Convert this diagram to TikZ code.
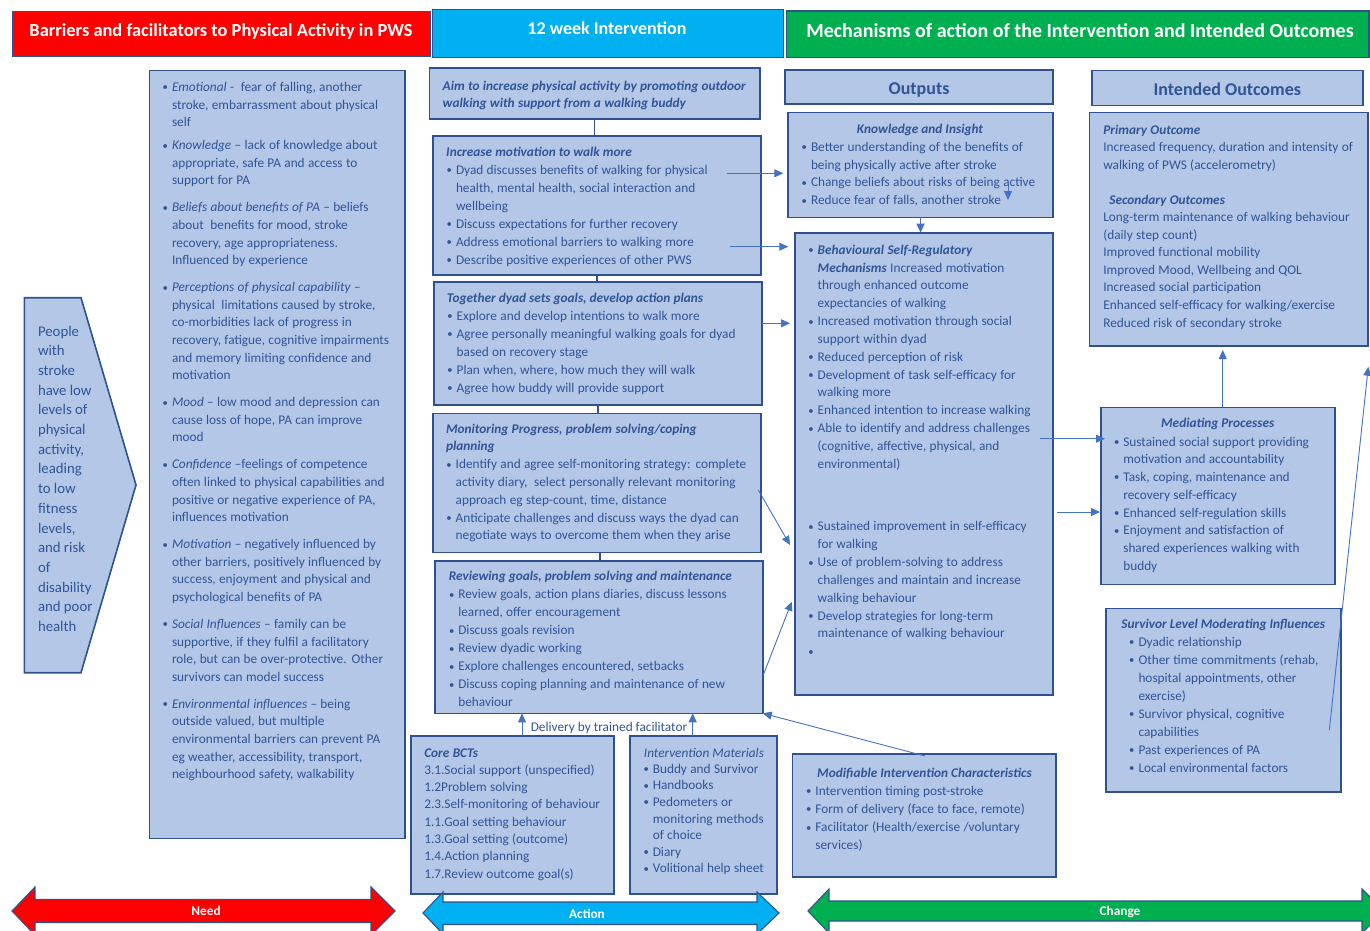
\documentclass[tikz,border=0pt]{standalone}
\usepackage{fontspec}
\setmainfont{Carlito}
\usetikzlibrary{arrows.meta}
\definecolor{boxf}{HTML}{B4C7E7}
\definecolor{bdr}{HTML}{2F528F}
\definecolor{tc}{HTML}{2F5597}
\definecolor{lnk}{HTML}{4472C4}
\definecolor{hred}{HTML}{FF0000}
\definecolor{hblue}{HTML}{00B0F0}
\definecolor{hgreen}{HTML}{00B050}
\newcommand\fsz[2]{\fontsize{#1}{#2}\selectfont}
\newcommand\bulx{\noindent\llap{\raisebox{0.6pt}{\scalebox{0.8}{\textbullet}}\hspace{4pt}}}
\newcommand\bul{\par\bulx}
\newcommand\bfit[1]{\textbf{\textit{#1}}}
\newcommand\mkbox[6][box]{\node[#1, minimum width={#5-#3}, minimum height={#6-#4}] (#2) at ({(#3+#5)/2},{(#4+#6)/2}) {};}
\begin{document}
\begin{tikzpicture}[x=1pt,y=-1pt,
 box/.style={draw=bdr, fill=boxf, line width=1.6pt, inner sep=0pt, outer sep=0pt, rectangle},
 hdr/.style={draw=bdr, line width=1.2pt, inner sep=0pt, outer sep=0pt, rectangle},
 txt/.style={anchor=base west, inner sep=0pt, outer sep=0pt, text=tc, align=left, text width=400pt},
 ttl/.style={anchor=base, inner sep=0pt, text=tc, font=\fsz{13.3}{16}\bfseries\itshape},
 ttlw/.style={anchor=base west, inner sep=0pt, text=tc, font=\fsz{13.3}{16}\bfseries\itshape},
 htxt/.style={anchor=base, inner sep=0pt, text=white, font=\fsz{18}{20}\bfseries},
 blab/.style={anchor=base, inner sep=0pt, text=white, font=\fsz{13.3}{15}\bfseries},
 vlink/.style={draw=bdr, line width=1.6pt},
 link/.style={draw=lnk, line width=0.9pt},
 arr/.style={link, -{Triangle[length=9pt,width=8pt]}},
 barrow/.style={draw=bdr, line width=1.1pt, line join=miter}
]
\useasboundingbox (0,0) rectangle (1370,931);

% ---------- header bars
\mkbox[hdr, fill=hred]{hN}{13}{11.7}{430}{56.7}
\mkbox[hdr, fill=hblue]{hI}{432.5}{9.3}{783.7}{57.3}
\mkbox[hdr, fill=hgreen]{hM}{786.4}{11}{1369}{57.3}
\node[htxt, font=\fsz{18.4}{20}\bfseries] (tN) at (221,36.5) {Barriers and facilitators to Physical Activity in PWS};
\node[htxt] (tI) at (607,34.5) {12 week Intervention};
\node[htxt, font=\fsz{20}{22}\bfseries] (tM) at (1080,38) {Mechanisms of action of the Intervention and Intended Outcomes};

% ---------- boxes
\draw[box, line join=miter] (24.3,297.7) -- (81,297.7) -- (136,485) -- (81,672.7) -- (24.3,672.7) -- cycle;
\mkbox{bar}{149.3}{70.7}{405}{838.3}
\mkbox{aim}{429.3}{68.3}{760}{119.3}
\mkbox{mot}{432.7}{136}{760.7}{275}
\mkbox{dyad}{434}{281.7}{761.7}{405}
\mkbox{mon}{432.7}{413.3}{760.7}{552.3}
\mkbox{rev}{435}{561}{762.7}{713.3}
\mkbox{core}{411}{736}{614}{894}
\mkbox{mat}{630}{736}{777}{894}
\mkbox{mod}{792.5}{754}{1056}{876.7}
\mkbox{outh}{785}{70}{1053}{104}
\mkbox{know}{788}{112.7}{1053}{217.3}
\mkbox{beh}{795}{232.7}{1053}{695}
\mkbox{ioh}{1091.7}{70.7}{1362.7}{105.7}
\mkbox{prim}{1089.3}{112.7}{1368}{345.7}
\mkbox{med}{1100.7}{407.3}{1335}{584.3}
\mkbox{surv}{1106}{608.3}{1340.7}{791.7}

% ---------- connectors
\draw[vlink] (aim.south) -- (aim.south |- mot.north);
\draw[vlink] (mot.south) -- (mot.south |- dyad.north);
\draw[vlink] (dyad.south) -- (dyad.south |- mon.north);
\coordinate (mr) at (600,552.3);
\draw[vlink] (mr) -- (mr |- rev.north);

\coordinate (dA) at (522,736);
\coordinate (dB) at (692.7,736);
\draw[arr] (dA) -- (dA |- rev.south);
\draw[arr] (dB) -- (dB |- rev.south);
\coordinate (mA) at (925,756);
\draw[arr] (mA) -- (rev.south east);

\coordinate (m1) at (726.7,173.3);
\draw[arr, shorten >=4.7pt] (m1) -- (m1 -| know.west);
\coordinate (m2) at (730,246.7);
\draw[arr, shorten >=6.7pt] (m2) -- (m2 -| beh.west);
\coordinate (d2) at (761.7,323.3);
\draw[arr, shorten >=5pt] (d2) -- (d2 -| beh.west);
\coordinate (n1) at (758.3,490);
\coordinate (n2) at (790,545);
\draw[arr] (n1) -- (n2);
\coordinate (r1) at (763.3,675);
\coordinate (r2) at (791.7,601.7);
\draw[arr] (r1) -- (r2);
\draw[arr] (know.south) -- (know.south |- beh.north);
\coordinate (s1) at (1008,184);
\coordinate (s2) at (1008,200);
\draw[arr] (s1) -- (s2);
\coordinate (b1) at (1040,438.7);
\coordinate (b2) at (1105,438.7);
\draw[arr] (b1) -- (b2);
\coordinate (b3) at (1057,512);
\coordinate (b4) at (1100,512);
\draw[arr] (b3) -- (b4);
\coordinate (p1) at (1222.7,350);
\draw[arr] (p1 |- med.north) -- (p1);
\coordinate (q1) at (1329.3,730);
\coordinate (q2) at (1368.3,366.7);
\draw[arr] (q1) -- (q2);

% ---------- bottom arrows
\draw[barrow, fill=hred] (12,911) -- (35,887) -- (35,899.5) -- (371,899.5) -- (371,887) -- (395,911) -- (371,935) -- (371,922.5) -- (35,922.5) -- (35,935) -- cycle;
\draw[barrow, fill=hblue] (423,913) -- (443,892) -- (443,902) -- (757,902) -- (757,892) -- (779,913) -- (757,934) -- (757,924.5) -- (443,924.5) -- (443,934) -- cycle;
\draw[barrow, fill=hgreen] (808,911) -- (829,889) -- (829,901) -- (1362,901) -- (1362,889) -- (1384,911) -- (1362,933) -- (1362,921) -- (829,921) -- (829,933) -- cycle;
\node[blab] (lNeed) at (206,915.5) {Need};
\node[blab] (lAct) at (587,918) {Action};
\node[blab] (lChg) at (1120,915.5) {Change};

% ---------- texts
\node[txt] (pwt) at (38,336) {\fsz{14.8}{19.7}People\newline with\newline stroke\newline have low\newline levels of\newline physical\newline activity,\newline leading\newline to low\newline fitness\newline levels,\newline and risk\newline of\newline disability\newline and poor\newline health\par};

\node[txt] (bart) at (172,91.5) {\fsz{13.3}{17.6}\setlength\parskip{9.4pt}%
\bulx\textit{Emotional} -\ \ fear of falling, another\newline stroke, embarrassment about physical\newline self
\par\vspace{-4pt}%
\bul\textit{Knowledge} – lack of knowledge about\newline appropriate, safe PA and access to\newline support for PA
\bul\textit{Beliefs about benefits of PA} – beliefs\newline about\ \ benefits for mood, stroke\newline recovery, age appropriateness.\newline Influenced by experience
\bul\textit{Perceptions of physical capability} –\newline physical\ \ limitations caused by stroke,\newline co-morbidities lack of progress in\newline recovery, fatigue, cognitive impairments\newline and memory limiting confidence and\newline motivation
\bul\textit{Mood} – low mood and depression can\newline cause loss of hope, PA can improve\newline mood
\bul\textit{Confidence} –feelings of competence\newline often linked to physical capabilities and\newline positive or negative experience of PA,\newline influences motivation
\bul\textit{Motivation} – negatively influenced by\newline other barriers, positively influenced by\newline success, enjoyment and physical and\newline psychological benefits of PA
\bul\textit{Social Influences} – family can be\newline supportive, if they fulfil a facilitatory\newline role, but can be over-protective. Other\newline survivors can model success
\bul\textit{Environmental influences} – being\newline outside valued, but multiple\newline environmental barriers can prevent PA\newline eg weather, accessibility, transport,\newline neighbourhood safety, walkability\par};

\node[txt] (aimt) at (442.7,90.3) {\fsz{13.3}{17.3}\bfit{Aim to increase physical activity by promoting outdoor}\newline\bfit{walking with support from a walking buddy}\par};

\node[ttlw] (mottl) at (446,156) {Increase motivation to walk more};
\node[txt] (mott) at (456,174) {\fsz{13.3}{18}%
\bulx Dyad discusses benefits of walking for physical\newline health, mental health, social interaction and\newline wellbeing
\bul Discuss expectations for further recovery
\bul Address emotional barriers to walking more
\bul Describe positive experiences of other PWS\par};

\node[ttlw] (dytl) at (446.7,302) {Together dyad sets goals, develop action plans};
\node[txt] (dyt) at (456.7,320.3) {\fsz{13.3}{18}%
\bulx Explore and develop intentions to walk more
\bul Agree personally meaningful walking goals for dyad\newline based on recovery stage
\bul Plan when, where, how much they will walk
\bul Agree how buddy will provide support\par};

\node[txt] (montl) at (446,433.3) {\fsz{13.3}{17.3}\bfit{Monitoring Progress, problem solving/coping}\newline\bfit{planning}\par};
\node[txt] (mont) at (455.7,468.6) {\fsz{13.3}{17.8}%
\bulx Identify and agree self-monitoring strategy: complete\newline activity diary,\ \ select personally relevant monitoring\newline approach eg step-count, time, distance
\bul Anticipate challenges and discuss ways the dyad can\newline negotiate ways to overcome them when they arise\par};

\node[ttlw] (revtl) at (448.7,580.3) {Reviewing goals, problem solving and maintenance};
\node[txt] (revt) at (458.3,598.6) {\fsz{13.3}{18.05}%
\bulx Review goals, action plans diaries, discuss lessons\newline learned, offer encouragement
\bul Discuss goals revision
\bul Review dyadic working
\bul Explore challenges encountered, setbacks
\bul Discuss coping planning and maintenance of new\newline behaviour\par};

\node[anchor=base, inner sep=0pt, text=tc, font=\fsz{13.3}{16}] (deliv) at (609,731) {Delivery by trained facilitator};

\node[txt] (coret) at (424.3,757) {\fsz{13.3}{17.33}\bfit{Core BCTs}\newline 3.1.Social support (unspecified)\newline 1.2Problem solving\newline 2.3.Self-monitoring of behaviour\newline 1.1.Goal setting behaviour\newline 1.3.Goal setting (outcome)\newline 1.4.Action planning\newline 1.7.Review outcome goal(s)\par};

\node[anchor=base west, inner sep=0pt, text=tc, font=\fsz{13.3}{16}\itshape] (mattl) at (643.7,757) {Intervention Materials};
\node[txt] (matt) at (652.8,773.3) {\fsz{13.3}{16.6}%
\bulx Buddy and Survivor
\bul Handbooks
\bul Pedometers or\newline monitoring methods\newline of choice
\bul Diary
\bul Volitional help sheet\par};

\node[ttl] (modtl) at (924.5,777) {Modifiable Intervention Characteristics};
\node[txt] (modt) at (815.4,795.3) {\fsz{13.3}{18.2}%
\bulx Intervention timing post-stroke
\bul Form of delivery (face to face, remote)
\bul Facilitator (Health/exercise /voluntary\newline services)\par};

\node[htxt, text=tc] (tO) at (919,95) {Outputs};
\node[htxt, text=tc] (tIO) at (1227.3,96) {Intended Outcomes};

\node[ttl] (knowtl) at (920,133) {Knowledge and Insight};
\node[txt] (knowt) at (811,151.6) {\fsz{13.3}{17.67}%
\bulx Better understanding of the benefits of\newline being physically active after stroke
\bul Change beliefs about risks of being active
\bul Reduce fear of falls, another stroke\par};

\node[txt] (beht) at (817.7,254.3) {\fsz{13.3}{17.83}%
\bulx\bfit{Behavioural Self-Regulatory}\newline\bfit{Mechanisms} Increased motivation\newline through enhanced outcome\newline expectancies of walking
\bul Increased motivation through social\newline support within dyad
\bul Reduced perception of risk
\bul Development of task self-efficacy for\newline walking more
\bul Enhanced intention to increase walking
\bul Able to identify and address challenges\newline (cognitive, affective, physical, and\newline environmental)
\par\vspace{44.9pt}%
\bul Sustained improvement in self-efficacy\newline for walking
\bul Use of problem-solving to address\newline challenges and maintain and increase\newline walking behaviour
\bul Develop strategies for long-term\newline maintenance of walking behaviour
\bul\mbox{}\par};

\node[txt] (primt) at (1103.3,134.3) {\fsz{13.3}{17.52}\bfit{Primary Outcome}\newline Increased frequency, duration and intensity of\newline walking of PWS (accelerometry)\newline\mbox{}\newline\hspace*{6pt}\bfit{Secondary Outcomes}\newline Long-term maintenance of walking behaviour\newline (daily step count)\newline Improved functional mobility\newline Improved Mood, Wellbeing and QOL\newline Increased social participation\newline Enhanced self-efficacy for walking/exercise\newline Reduced risk of secondary stroke\par};

\node[ttl] (medtl) at (1217.7,427) {Mediating Processes};
\node[txt] (medt) at (1123.3,446) {\fsz{13.3}{17.76}%
\bulx Sustained social support providing\newline motivation and accountability
\bul Task, coping, maintenance and\newline recovery self-efficacy
\bul Enhanced self-regulation skills
\bul Enjoyment and satisfaction of\newline shared experiences walking with\newline buddy\par};

\node[ttl] (survtl) at (1223.3,628.3) {Survivor Level Moderating Influences};
\node[txt] (survt) at (1138.5,646) {\fsz{13.3}{18}%
\bulx Dyadic relationship
\bul Other time commitments (rehab,\newline hospital appointments, other\newline exercise)
\bul Survivor physical, cognitive\newline capabilities
\bul Past experiences of PA
\bul Local environmental factors\par};
\end{tikzpicture}
\end{document}
